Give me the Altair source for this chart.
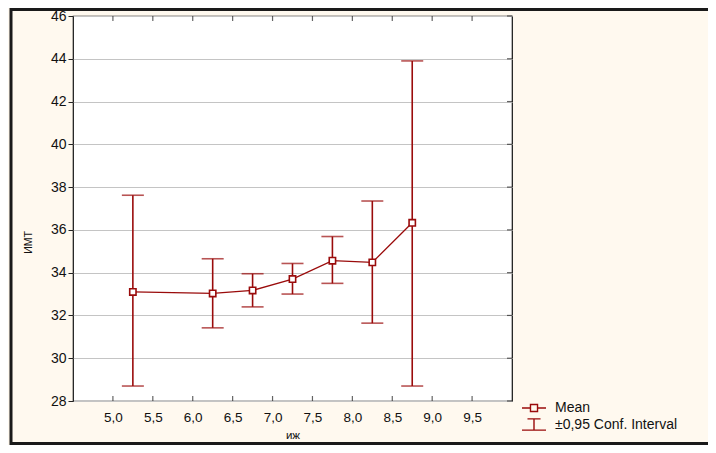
import altair as alt
import pandas as pd

# ---- data ----
x_vals = [5.25, 6.25, 6.75, 7.25, 7.75, 8.25, 8.75]
mean_vals = [33.1, 33.03, 33.17, 33.7, 34.56, 34.48, 36.33]
ci_low = [28.7, 31.42, 32.4, 33.0, 33.5, 31.64, 28.7]
ci_high = [37.62, 34.65, 33.95, 34.43, 35.69, 37.35, 43.9]

x_ticks = [5.0, 5.5, 6.0, 6.5, 7.0, 7.5, 8.0, 8.5, 9.0, 9.5]
y_ticks = [28, 30, 32, 34, 36, 38, 40, 42, 44, 46]
legend_labels = ["Mean", "±0,95 Conf. Interval"]

x_title = "иж"
y_title = "ИМТ"

# ---- styling ----
RED = "#9a0b0b"
BG = "#fff9ef"
FONT = "Arial, Liberation Sans"
W, H = 439, 385

df = pd.DataFrame({"x": x_vals, "mean": mean_vals, "lo": ci_low, "hi": ci_high})
xt = pd.DataFrame({"x": x_ticks})
yt = pd.DataFrame({"y": y_ticks})
leg = pd.DataFrame({"series": legend_labels})

xscale = alt.Scale(domain=[4.5, 10], nice=False, zero=False)
yscale = alt.Scale(domain=[28, 46], nice=False, zero=False)

xaxis = alt.Axis(
    values=x_ticks,
    labelExpr="replace(format(datum.value, '.1f'), '.', ',')",
    grid=False, ticks=False, domain=False,
    labelPadding=9, labelFontSize=13.5, labelFont=FONT, labelColor="#111",
    title=x_title, titleFont=FONT, titleFontSize=11.5, titleFontWeight="normal",
    titleColor="#111", titleY=34, titleBaseline="middle",
)
yaxis = alt.Axis(
    values=y_ticks, format="d",
    grid=True, gridColor="#c4c4c4", gridWidth=1,
    ticks=True, tickSize=5, tickColor="#222", domain=False,
    labelPadding=2, labelFontSize=14, labelFont=FONT, labelColor="#111",
    title=y_title, titleFont=FONT, titleFontSize=10.5, titleFontWeight="normal",
    titleColor="#111", titleX=-45, titleY=226, titleAngle=-90,
    titleBaseline="middle",
)

frame = alt.Chart(leg.head(1)).mark_rect(
    filled=False, stroke="#1a1a1a", strokeWidth=3, clip=False
).encode(
    x=alt.value(-62), x2=alt.value(700), y=alt.value(-6.5), y2=alt.value(427.5)
)

rules = alt.Chart(df).mark_rule(color=RED, strokeWidth=1.6).encode(
    x=alt.X("x:Q", scale=xscale, axis=xaxis),
    y=alt.Y("lo:Q", scale=yscale, axis=yaxis),
    y2="hi:Q",
)
cap_lo = alt.Chart(df).mark_tick(
    color=RED, orient="horizontal", size=22, thickness=1.6
).encode(x="x:Q", y="lo:Q")
cap_hi = alt.Chart(df).mark_tick(
    color=RED, orient="horizontal", size=22, thickness=1.6
).encode(x="x:Q", y="hi:Q")

line = alt.Chart(df).mark_line(color=RED, strokeWidth=1.3).encode(
    x="x:Q", y="mean:Q"
)
squares = alt.Chart(df).mark_square(
    filled=True, fill="white", stroke=RED, strokeWidth=1.6, size=40, opacity=1
).encode(x="x:Q", y="mean:Q")

# inner ticks on bottom/top/right edges
tick_style = dict(color="#222", thickness=1.2, size=5)
xt_bot = alt.Chart(xt).mark_tick(orient="vertical", **tick_style).encode(
    x="x:Q", y=alt.value(H - 2.5)
)
xt_top = alt.Chart(xt).mark_tick(orient="vertical", **tick_style).encode(
    x="x:Q", y=alt.value(2.5)
)
yt_right = alt.Chart(yt).mark_tick(orient="horizontal", **tick_style).encode(
    y="y:Q", x=alt.value(W - 2.5)
)

mean_path = "M-1.6,0H-0.47M0.47,0H1.6M-0.47,-0.47H0.47V0.47H-0.47Z"
ci_path = "M-0.87,-0.75H0.87M0,-0.75V0.75M-1.6,0.75H1.6"

legend_layer = alt.Chart(leg).mark_point(
    opacity=0, filled=False, color=RED
).encode(
    x=alt.value(0), y=alt.value(0),
    shape=alt.Shape(
        "series:N",
        scale=alt.Scale(domain=legend_labels, range=[mean_path, ci_path]),
        legend=alt.Legend(
            title=None, orient="none", legendX=452.5, legendY=383.5,
            padding=0, rowPadding=0.5, symbolSize=225,
            symbolStrokeColor=RED, symbolFillColor="white",
            symbolStrokeWidth=1.4, symbolOpacity=1,
            labelFont=FONT, labelFontSize=14, labelColor="#111",
            labelOffset=12.5, labelBaseline="middle",
        ),
    ),
)

chart = alt.layer(
    frame, rules, cap_lo, cap_hi, line, squares, xt_bot, xt_top, yt_right,
    legend_layer,
).properties(
    width=W, height=H, background=BG,
    padding={"left": 65, "top": 8, "right": 196, "bottom": 44},
    autosize=alt.AutoSizeParams(type="none"),
).configure_view(
    fill="white", stroke="#111", strokeWidth=1.2
)

chart.save("out.html", embed_options={"renderer": "svg", "actions": False})
